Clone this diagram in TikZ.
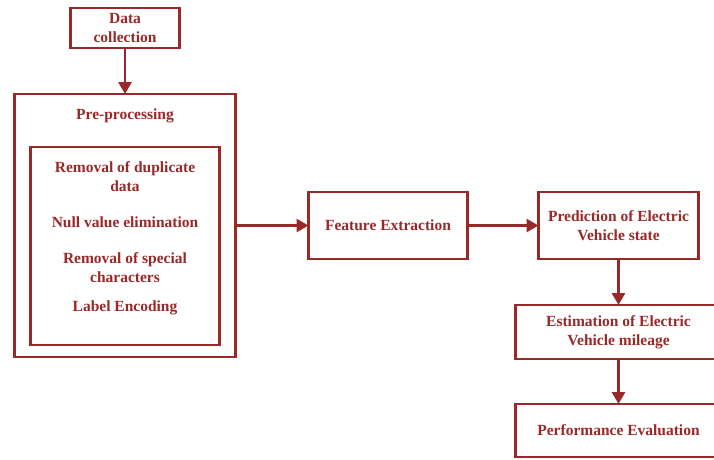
\documentclass[tikz,border=0pt]{standalone}
\usepackage{fontspec}
\setmainfont{Liberation Serif}
\usetikzlibrary{positioning, arrows.meta}
\definecolor{boxred}{RGB}{153,40,40}

\begin{document}
\begin{tikzpicture}[x=1pt, y=-1pt,
  main/.style = {draw=boxred, line width=2.8pt, text=boxred, align=center, inner sep=0pt, outer sep=0pt,
    font=\bfseries\fontsize{15.5}{19}\selectfont},
  txt/.style = {text=boxred, align=center, inner sep=0pt,
    font=\bfseries\fontsize{15.5}{19}\selectfont},
  flow/.style = {draw=boxred, line width=2.8pt, -{Triangle[length=12pt, width=13pt]}}]
\useasboundingbox (0,0) rectangle (714,459);
\node[main, minimum width=109pt, minimum height=40pt] (data) at (125,28) {Data\\collection};
\node[main, minimum width=221pt, minimum height=263pt] (pre) [below=46pt of data] {};
\node[txt] (pretitle) at (125,116) {Pre-processing};
\node[main, minimum width=189pt, minimum height=198pt] (steps) at (125,246) {};
\node[txt] (dup) at (125,176.5) {Removal of duplicate\\data};
\node[txt] (null) at (125,222) {Null value elimination};
\node[txt] (spec) at (125,267.5) {Removal of special\\characters};
\node[txt] (lab) at (125,308) {Label Encoding};
\node[main, minimum width=159pt, minimum height=67pt] (feat) [right=73pt of pre] {Feature Extraction};
\node[main, minimum width=160pt, minimum height=67pt] (pred) [right=71pt of feat] {Prediction of Electric\\Vehicle state};
\node[main, minimum width=206pt, minimum height=54pt] (est) [below=46pt of pred] {Estimation of Electric\\Vehicle mileage};
\node[main, minimum width=206pt, minimum height=53pt] (perf) [below=45pt of est] {Performance Evaluation};
\draw[flow] (data) -- (pre);
\draw[flow] (pre) -- (feat);
\draw[flow] (feat) -- (pred);
\draw[flow] (pred) -- (est);
\draw[flow] (est) -- (perf);
\end{tikzpicture}
\end{document}
